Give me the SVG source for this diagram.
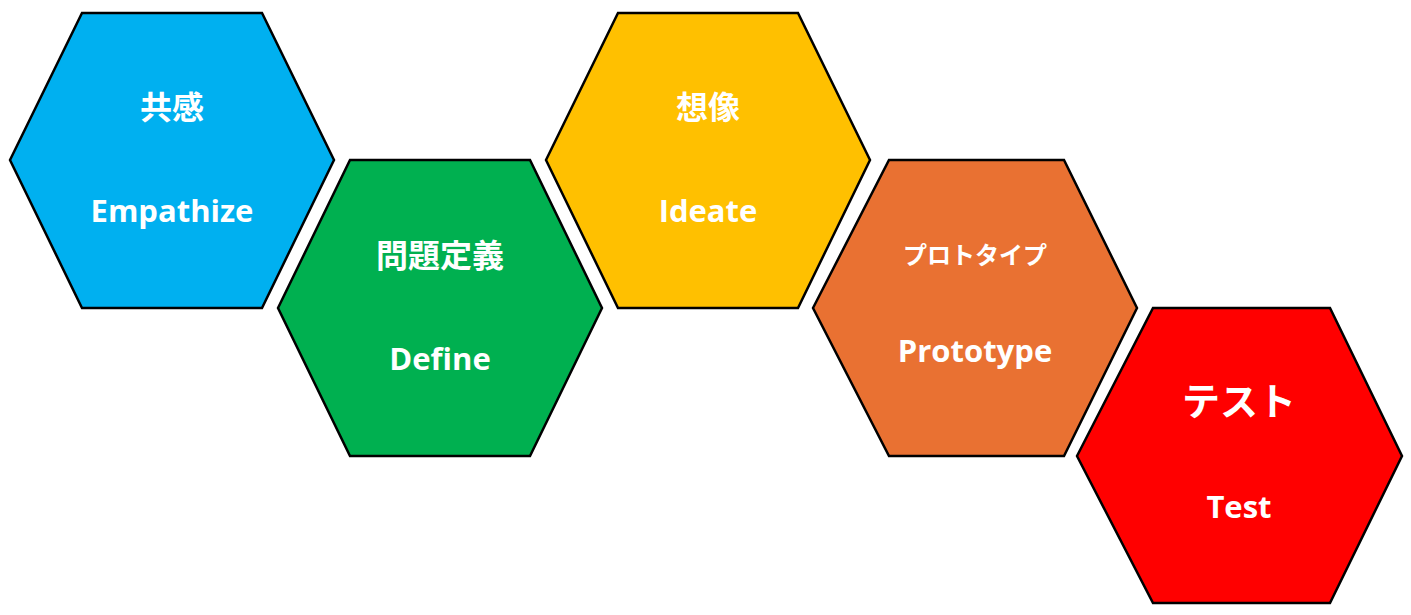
<svg xmlns="http://www.w3.org/2000/svg" width="1411" height="615" viewBox="0 0 1411 615">
<style>
.h{stroke:#000;stroke-width:2.5;stroke-linejoin:miter}
.t{fill:#fff;font-family:"Open Sans","Noto Sans CJK JP",sans-serif;font-weight:bold;text-anchor:middle}
.jp{font-family:"Noto Sans CJK JP",sans-serif;font-size:32px}
.en{font-size:31px}
</style>
<rect width="1411" height="615" fill="#fff"/>
<g id="empathize">
<polygon class="h" fill="#00b0f0" points="10,160 82,13 262,13 334,160 262,308 82,308"/>
<text class="t jp" x="172" y="119">共感</text>
<text class="t en" x="172" y="222">Empathize</text>
</g>
<g id="define">
<polygon class="h" fill="#00b050" points="278,308 350,160 530,160 602,308 530,456 350,456"/>
<text class="t jp" x="440" y="267">問題定義</text>
<text class="t en" x="440" y="370">Define</text>
</g>
<g id="ideate">
<polygon class="h" fill="#ffc000" points="546,160 618,13 798,13 870,160 798,308 618,308"/>
<text class="t jp" x="708" y="119">想像</text>
<text class="t en" x="708" y="222">Ideate</text>
</g>
<g id="prototype">
<polygon class="h" fill="#e97132" points="813,308 889,160 1064,160 1137,308 1064,456 889,456"/>
<text class="t jp" x="975" y="264" style="font-size:24px">プロトタイプ</text>
<text class="t en" x="975" y="362">Prototype</text>
</g>
<g id="test">
<polygon class="h" fill="#ff0000" points="1077,456 1153,308 1330,308 1402,456 1330,603 1153,603"/>
<text class="t jp" x="1239" y="415" style="font-size:38px">テスト</text>
<text class="t en" x="1239" y="518">Test</text>
</g>
<g id="connectors"></g>
</svg>
